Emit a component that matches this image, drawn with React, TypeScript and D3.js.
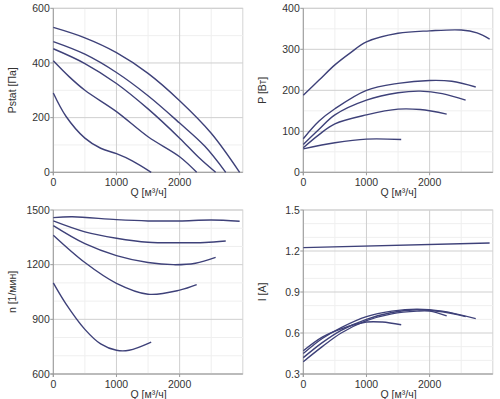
import React from 'react';
import * as d3 from 'd3';

// ---- data ----
const qTicks = [0, 1000, 2000];
const qMinor = [500, 1500, 2500];

// static pressure, Pa
const pstatA = [[0, 530], [500, 492], [1000, 438], [1500, 362], [2000, 262], [2500, 143], [2950, 0]];
const pstatB = [[0, 478], [500, 432], [1000, 365], [1500, 280], [2000, 180], [2400, 95], [2730, 0]];
const pstatC = [[0, 452], [500, 398], [1000, 325], [1500, 232], [2000, 125], [2300, 55], [2570, 0]];
const pstatD = [[0, 408], [250, 350], [500, 300], [1000, 222], [1500, 130], [2000, 57], [2270, 0]];
const pstatE = [[0, 290], [200, 205], [500, 125], [750, 88], [1000, 68], [1250, 42], [1550, 0]];

// power, W
const powerA = [[0, 188], [250, 225], [500, 262], [750, 292], [1000, 318], [1500, 339], [2000, 345], [2500, 347], [2750, 340], [2950, 325]];
const powerB = [[0, 82], [250, 125], [500, 155], [1000, 200], [1500, 217], [2000, 224], [2350, 222], [2730, 208]];
const powerC = [[0, 68], [250, 105], [500, 140], [1000, 176], [1500, 194], [1850, 198], [2200, 192], [2570, 176]];
const powerD = [[0, 60], [250, 92], [500, 118], [1000, 140], [1500, 154], [1850, 153], [2270, 142]];
const powerE = [[0, 57], [500, 72], [1000, 81], [1550, 80]];

// speed, 1/min
const speedA = [[0, 1458], [300, 1463], [1000, 1447], [1500, 1440], [2000, 1440], [2500, 1445], [2950, 1438]];
const speedB = [[0, 1440], [500, 1380], [1000, 1345], [1500, 1323], [2000, 1320], [2400, 1322], [2730, 1330]];
const speedC = [[0, 1414], [500, 1315], [1000, 1250], [1500, 1212], [1900, 1200], [2250, 1208], [2570, 1240]];
const speedD = [[0, 1362], [500, 1212], [1000, 1098], [1500, 1038], [2000, 1060], [2270, 1090]];
const speedE = [[0, 1100], [200, 985], [500, 845], [750, 765], [1000, 730], [1200, 730], [1550, 775]];

// current, A
const currentA = [[0, 1.225], [2950, 1.258]];
const currentB = [[0, 0.45], [300, 0.56], [600, 0.64], [1000, 0.72], [1400, 0.76], [1800, 0.775], [2200, 0.76], [2730, 0.705]];
const currentC = [[0, 0.42], [300, 0.53], [600, 0.62], [1000, 0.70], [1400, 0.75], [1800, 0.77], [2200, 0.755], [2570, 0.72]];
const currentD = [[0, 0.39], [300, 0.50], [600, 0.60], [1000, 0.69], [1400, 0.74], [1800, 0.76], [2000, 0.76], [2270, 0.725]];
const currentE = [[0, 0.47], [300, 0.57], [600, 0.63], [1000, 0.68], [1250, 0.68], [1550, 0.66]];

const panels = [
  { left: 53.3, top: 8.3, title: 'Pstat [Па]', domain: [0, 600], ticks: [0, 200, 400, 600], minor: [100, 300, 500],
    series: [pstatA, pstatB, pstatC, pstatD, pstatE], fmt: (d: number) => String(d) },
  { left: 303.3, top: 8.3, title: 'P [Вт]', domain: [0, 400], ticks: [0, 100, 200, 300, 400], minor: [50, 150, 250, 350],
    series: [powerA, powerB, powerC, powerD, powerE], fmt: (d: number) => String(d) },
  { left: 53.3, top: 210, title: 'n [1/мин]', domain: [600, 1500], ticks: [600, 900, 1200, 1500], minor: [700, 800, 1000, 1100, 1300, 1400],
    series: [speedA, speedB, speedC, speedD, speedE], fmt: (d: number) => String(d) },
  { left: 303.3, top: 210, title: 'I [A]', domain: [0.3, 1.5], ticks: [0.3, 0.6, 0.9, 1.2, 1.5], minor: [0.4, 0.5, 0.7, 0.8, 1.0, 1.1, 1.3, 1.4],
    series: [currentA, currentB, currentC, currentD, currentE], fmt: (d: number) => d.toFixed(1) },
];

const W = 189.5;
const H = 164;
const lineColor = '#3e4179';
const font = '"Liberation Sans", Arial, sans-serif';

function Panel({ p }: { p: typeof panels[number] }) {
  const x = d3.scaleLinear([0, 3000], [0, W]);
  const y = d3.scaleLinear(p.domain, [H, 0]);
  const line = d3.line<number[]>()
    .x(d => x(d[0]))
    .y(d => y(d[1]))
    .curve(d3.curveCatmullRom.alpha(0.5));

  return (
    <g transform={`translate(${p.left},${p.top})`}>
      <rect x={0} y={0} width={W} height={H} fill="#fff" stroke="#d4d4d4" />
      {/* minor grid */}
      {qMinor.map(q => (
        <line key={'qm' + q} x1={x(q)} x2={x(q)} y1={0} y2={H} stroke="#efefef" />
      ))}
      {p.minor.map(v => (
        <line key={'vm' + v} x1={0} x2={W} y1={y(v)} y2={y(v)} stroke="#efefef" />
      ))}
      {/* major grid */}
      {qTicks.slice(1).map(q => (
        <line key={'q' + q} x1={x(q)} x2={x(q)} y1={0} y2={H} stroke="#cfcfcf" />
      ))}
      {p.ticks.map(v => (
        <line key={'v' + v} x1={0} x2={W} y1={y(v)} y2={y(v)} stroke="#cfcfcf" />
      ))}
      {/* axes */}
      <line x1={0} x2={0} y1={0} y2={H + 3} stroke="#9a9a9a" />
      <line x1={-3} x2={W} y1={H} y2={H} stroke="#9a9a9a" />
      {p.ticks.map(v => (
        <g key={'t' + v}>
          <line x1={-3} x2={0} y1={y(v)} y2={y(v)} stroke="#9a9a9a" />
          <text x={-3.5} y={y(v)} dy="0.35em" textAnchor="end" fontSize={10.5} fill="#333" fontFamily={font}>
            {p.fmt(v)}
          </text>
        </g>
      ))}
      {qTicks.map(q => (
        <g key={'xt' + q}>
          <line x1={x(q)} x2={x(q)} y1={H} y2={H + 3} stroke="#9a9a9a" />
          <text x={x(q)} y={H + 13.5} textAnchor="middle" fontSize={10.5} fill="#333" fontFamily={font}>
            {q}
          </text>
        </g>
      ))}
      <text x={W / 2 + 0.5} y={H + 24} textAnchor="middle" fontSize={10.5} fill="#333" fontFamily={font}>
        Q [м³/ч]
      </text>
      <text transform={`translate(${-37},${H / 2}) rotate(-90)`} textAnchor="middle" fontSize={10.5} fill="#333" fontFamily={font}>
        {p.title}
      </text>
      {p.series.map((s, i) => (
        <path key={i} d={line(s) || ''} fill="none" stroke={lineColor} strokeWidth={1.4} />
      ))}
    </g>
  );
}

export default function App() {
  return (
    <div style={{ position: 'absolute', left: 0, top: 0, background: '#fff' }}>
      <svg width={500} height={399} style={{ display: 'block' }}>
        <rect width={500} height={399} fill="#fff" />
        {panels.map((p, i) => <Panel key={i} p={p} />)}
      </svg>
    </div>
  );
}
